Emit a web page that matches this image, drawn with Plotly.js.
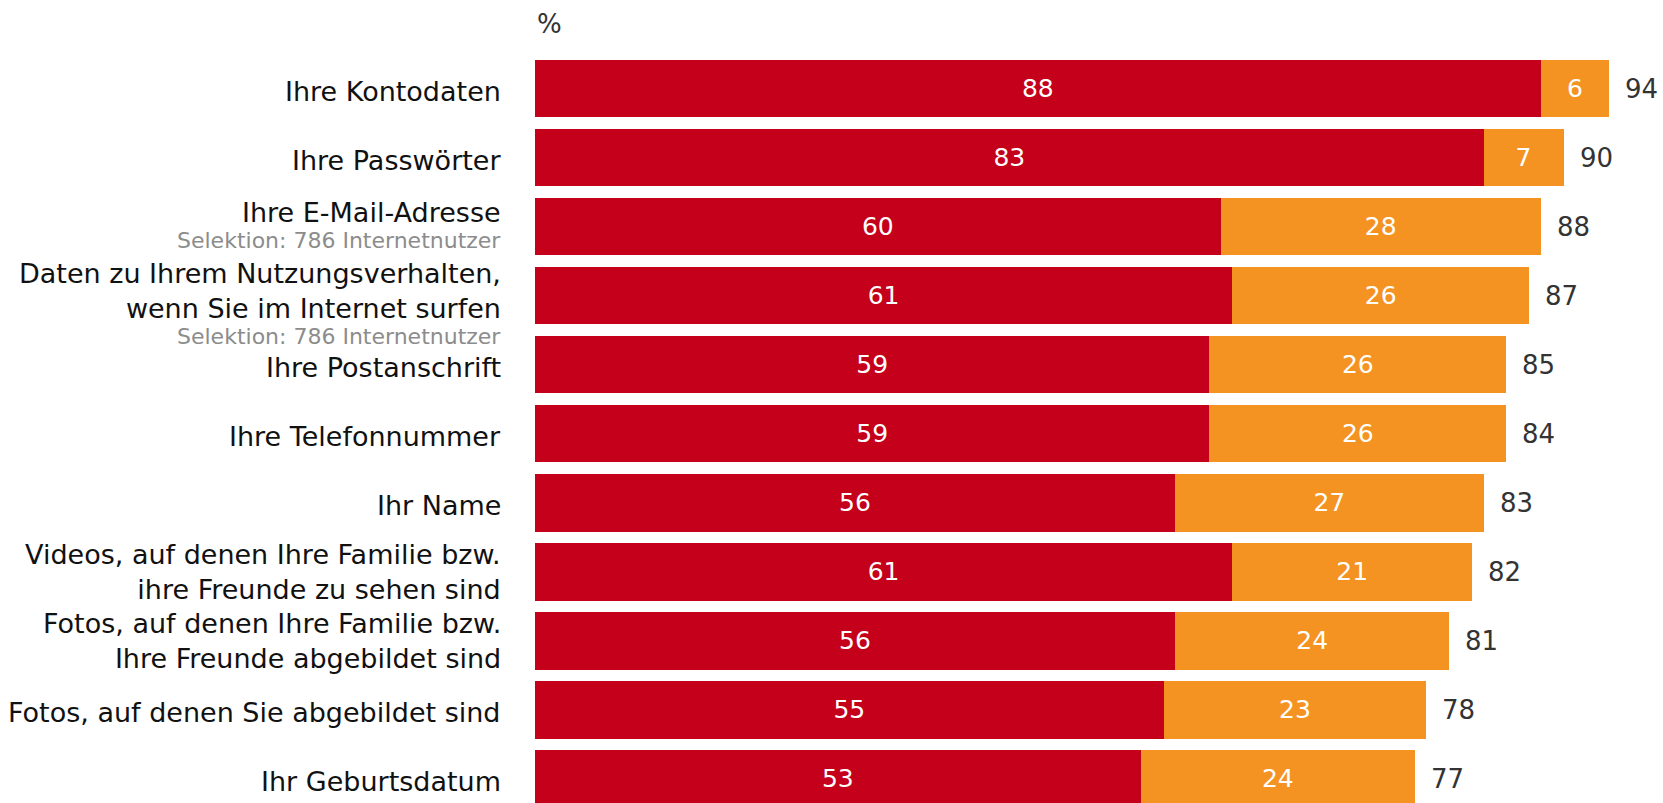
<!DOCTYPE html>
<html>
<head>
<meta charset="utf-8">
<script src="https://cdn.plot.ly/plotly-3.0.1.min.js"></script>
<style>html,body{margin:0;padding:0;background:#fff;}#chart{width:1663px;height:803px;}</style>
</head>
<body>
<div id="chart"></div>
<script>
const categories = [
  "Ihre Kontodaten",
  "Ihre Passwörter",
  "Ihre E-Mail-Adresse",
  "Daten zu Ihrem Nutzungsverhalten,<br>wenn Sie im Internet surfen",
  "Ihre Postanschrift",
  "Ihre Telefonnummer",
  "Ihr Name",
  "Videos, auf denen Ihre Familie bzw.<br>ihre Freunde zu sehen sind",
  "Fotos, auf denen Ihre Familie bzw.<br>Ihre Freunde abgebildet sind",
  "Fotos, auf denen Sie abgebildet sind",
  "Ihr Geburtsdatum"
];
const subNotes = ["", "", "Selektion: 786 Internetnutzer", "Selektion: 786 Internetnutzer", "", "", "", "", "", "", ""];
const redValues = [88, 83, 60, 61, 59, 59, 56, 61, 56, 55, 53];
const orangeValues = [6, 7, 28, 26, 26, 26, 27, 21, 24, 23, 24];
const totals = [94, 90, 88, 87, 85, 84, 83, 82, 81, 78, 77];
const unitLabel = "%";

const idx = categories.map((_, i) => i);
const font = "DejaVu Sans, Verdana, sans-serif";

const traces = [
  {
    type: 'bar', orientation: 'h', y: idx, x: redValues,
    marker: {color: '#C4001A'},
    text: redValues.map(String), textposition: 'inside', insidetextanchor: 'middle',
    textfont: {color: '#ffffff', size: 25, family: font},
    constraintext: 'none', hoverinfo: 'skip', showlegend: false
  },
  {
    type: 'bar', orientation: 'h', y: idx, x: orangeValues,
    marker: {color: '#F59322'},
    text: orangeValues.map(String), textposition: 'inside', insidetextanchor: 'middle',
    textfont: {color: '#ffffff', size: 25, family: font},
    constraintext: 'none', hoverinfo: 'skip', showlegend: false
  }
];

const annotations = [];
// category labels (left of bars) and grey selection notes
categories.forEach((c, i) => {
  const lines = c.split('<br>').length;
  const hasNote = subNotes[i] !== '';
  let mainShift = 0, noteShift = 0;
  if (hasNote) {
    mainShift = lines === 1 ? 14 : 5;
    noteShift = lines === 1 ? -14 : -41;
  } else if (lines === 1) {
    mainShift = -3;
  }
  annotations.push({
    x: 0, y: i, xref: 'paper', yref: 'y', text: c, showarrow: false,
    xanchor: 'right', yanchor: 'middle', align: 'right', xshift: -32, yshift: mainShift,
    font: {size: 27, color: '#111111', family: font}
  });
  if (hasNote) {
    annotations.push({
      x: 0, y: i, xref: 'paper', yref: 'y', text: subNotes[i], showarrow: false,
      xanchor: 'right', yanchor: 'middle', align: 'right', xshift: -32, yshift: noteShift,
      font: {size: 22, color: '#8c8c8c', family: font}
    });
  }
});
// totals right of bars
totals.forEach((t, i) => {
  annotations.push({
    x: redValues[i] + orangeValues[i], y: i, xref: 'x', yref: 'y',
    text: String(t), showarrow: false, xanchor: 'left', yanchor: 'middle',
    xshift: 14, font: {size: 26, color: '#333333', family: font}
  });
});
annotations.push({
  x: 0, y: 1, xref: 'paper', yref: 'paper', text: unitLabel, showarrow: false,
  xanchor: 'left', yanchor: 'bottom', yshift: 13,
  font: {size: 26, color: '#333333', family: font}
});

const layout = {
  width: 1663, height: 803,
  margin: {l: 535, r: 8, t: 54, b: 0, pad: 0},
  barmode: 'stack', bargap: 0.166,
  paper_bgcolor: '#ffffff', plot_bgcolor: '#ffffff',
  font: {family: font, size: 25, color: '#111111'},
  xaxis: {range: [0, 98], visible: false, fixedrange: true},
  yaxis: {
    range: [10.35, -0.5], showticklabels: false,
    showgrid: false, zeroline: false, showline: false, ticks: '', fixedrange: true
  },
  annotations: annotations,
  showlegend: false
};

Plotly.newPlot('chart', traces, layout, {displayModeBar: false, staticPlot: true});
</script>
</body>
</html>
